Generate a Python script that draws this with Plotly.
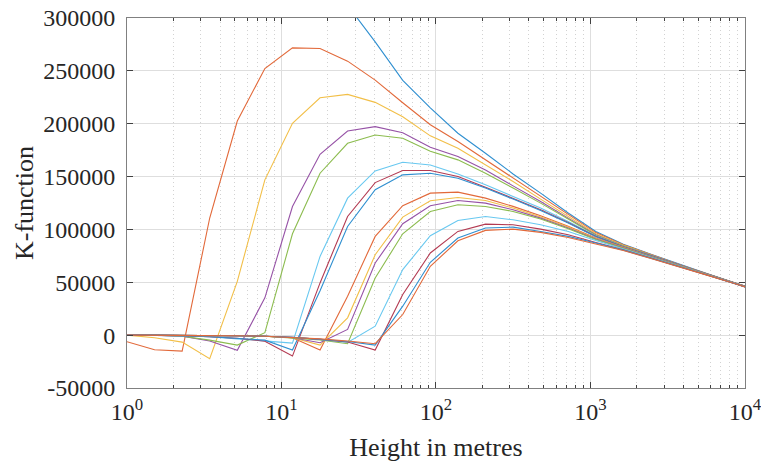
import plotly.graph_objects as go

# x positions (metres), log-spaced sample heights
heights = [1, 1.508, 2.275, 3.431, 5.176, 7.806, 11.78, 17.77, 26.79, 40.42, 60.95, 91.94,
           138.7, 209.2, 315.5, 475.9, 717.8, 1083, 1633, 2463, 3715, 5603, 8453, 12750]

k1 = [3000000, 2100000, 1500000, 1100000, 820000, 620000, 480000, 380000, 312000, 277400, 241000, 215000,
      191000, 172000, 152500, 134300, 115500, 98000, 86000, 76500, 67300, 58500, 49800, 41300]
k2 = [-6200, -13800, -15100, 110800, 202500, 252200, 271700, 271100, 259200, 241200, 219800, 199000,
      183100, 165800, 148500, 131200, 113900, 97000, 85500, 76200, 67100, 58400, 49700, 41300]
k3 = [0, -2500, -6600, -22300, 50900, 146900, 200400, 224500, 227700, 220200, 206600, 188500,
      176700, 161100, 145300, 128700, 112300, 96000, 85000, 75800, 66900, 58200, 49700, 41200]
k4 = [0, 0, -900, -5600, -14400, 35300, 121700, 171100, 193100, 197200, 191500, 177700,
      168900, 156300, 141200, 126400, 110700, 95000, 84400, 75500, 66700, 58100, 49600, 41200]
k5 = [0, 0, -1000, -4700, -9400, 2300, 95900, 153200, 181500, 189300, 186200, 174000,
      165800, 153200, 139100, 124900, 109800, 94600, 84200, 75300, 66600, 58100, 49600, 41200]
k6 = [0, 0, -800, -1500, -3500, -5500, -7500, 74500, 129600, 155400, 163600, 161000,
      152500, 142200, 131200, 120200, 107600, 94000, 83900, 75100, 66500, 58000, 49500, 41100]
k7 = [0, 0, -500, -1500, -3000, -5700, -19800, 49400, 112300, 144300, 155700, 155700,
      150000, 140000, 129600, 118600, 106600, 93500, 83700, 75000, 66400, 57900, 49500, 41100]
k8 = [0, 0, -500, -1500, -3000, -4700, -14100, 42000, 102800, 137500, 151600, 153200,
      148500, 139100, 128700, 118000, 106000, 93000, 83400, 74800, 66300, 57900, 49500, 41100]
k9 = [0, 0, 0, -300, -600, -1000, -2500, -14100, 36800, 93400, 122400, 134300,
      135300, 129600, 121800, 112900, 102900, 91900, 82800, 74400, 66100, 57700, 49400, 41000]
k10 = [0, 0, 0, -300, -600, -1000, -2500, -9400, 16400, 76100, 111700, 127100,
       130200, 127300, 120200, 111700, 102300, 91500, 82600, 74300, 66000, 57700, 49400, 41000]
k11 = [0, 0, 0, -300, -600, -1000, -2500, -7200, 5400, 68300, 105400, 122400,
       127300, 124900, 118600, 110700, 101300, 91000, 82400, 74100, 65900, 57600, 49300, 41000]
k12 = [0, 0, 0, -300, -600, -1000, -2500, -4500, -8100, 54100, 95900, 117000,
       123300, 121700, 117000, 109800, 100700, 90500, 82100, 73900, 65800, 57500, 49300, 41000]
k13 = [0, 0, 0, -300, -600, -1000, -2000, -4000, -7000, 8500, 62000, 94100,
       108500, 112300, 109100, 104400, 98100, 89600, 81700, 73600, 65600, 57400, 49200, 40900]
k14 = [0, 0, 0, -300, -600, -1000, -2000, -4000, -6500, -14100, 38400, 77700,
       98100, 105000, 104400, 100300, 94900, 87700, 80700, 72900, 65300, 57200, 49100, 40900]
k15 = [0, 0, 0, -300, -600, -1000, -2000, -4000, -6000, -9400, 27400, 68900,
       91800, 101300, 102200, 98100, 93400, 87100, 80400, 72700, 65100, 57100, 49000, 40800]
k16 = [0, 0, 0, -300, -600, -1000, -2000, -3500, -5500, -8100, 19500, 65100,
       89300, 99100, 100300, 97200, 92400, 86400, 80000, 72500, 65000, 57000, 49000, 40800]

series = [k1, k2, k3, k4, k5, k6, k7, k8, k9, k10, k11, k12, k13, k14, k15, k16]

colors = ["#2f8fd0", "#e2693a", "#f2bf48", "#9652a6", "#8cbc4f", "#68c8f0", "#b33a52"]

x_tickvals = [1, 10, 100, 1000, 10000]
x_ticktext = ["10<sup>0</sup>", "10<sup>1</sup>", "10<sup>2</sup>", "10<sup>3</sup>", "10<sup>4</sup>"]
y_tickvals = [-50000, 0, 50000, 100000, 150000, 200000, 250000, 300000]
y_ticktext = ["-50000", "0", "50000", "100000", "150000", "200000", "250000", "300000"]

fig = go.Figure()
for i, s in enumerate(series):
    fig.add_trace(go.Scatter(x=heights, y=s, mode="lines",
                             line=dict(color=colors[i % len(colors)], width=1.1),
                             showlegend=False, hoverinfo="skip"))

minor_vals = [m * 10 ** e for e in range(4) for m in range(2, 10)]

font_family = "Liberation Serif"
tick_font = dict(family=font_family, size=24, color="#262626")
title_font = dict(family=font_family, size=26, color="#262626")

fig.update_layout(
    width=761, height=463,
    margin=dict(l=127, r=16, t=18, b=75),
    paper_bgcolor="white", plot_bgcolor="white",
    font=dict(family=font_family, size=24, color="#262626"),
    xaxis=dict(
        type="log", range=[0, 4.0005], automargin=False,
        tickvals=x_tickvals, ticktext=x_ticktext,
        tickfont=tick_font, ticklabeloverflow="allow",
        ticks="inside", ticklen=6, tickcolor="#404040", tickwidth=1,
        showline=True, linecolor="#808080", linewidth=1, mirror="allticks",
        showgrid=True, gridcolor="#dedede", gridwidth=1,
        zeroline=False,
        ticklabelstandoff=2,
        minor=dict(tickvals=minor_vals, ticks="inside", ticklen=3, tickcolor="#404040",
                   showgrid=True, gridcolor="#d2d2d2", griddash="1px,3px", gridwidth=1),
        title=dict(text="Height in metres", font=title_font, standoff=14),
    ),
    yaxis=dict(
        range=[-50000, 300000], automargin=False,
        tickvals=y_tickvals, ticktext=y_ticktext,
        tickfont=tick_font,
        ticks="inside", ticklen=6, tickcolor="#404040", tickwidth=1,
        showline=True, linecolor="#808080", linewidth=1, mirror="allticks",
        showgrid=True, gridcolor="#dedede", gridwidth=1,
        zeroline=False,
        ticklabelstandoff=6,
        title=dict(text="K-function", font=title_font, standoff=2),
    ),
)

fig.write_html("out.html", config={"displayModeBar": False},
               post_script="document.body.style.margin='0';document.body.style.overflow='hidden';")
